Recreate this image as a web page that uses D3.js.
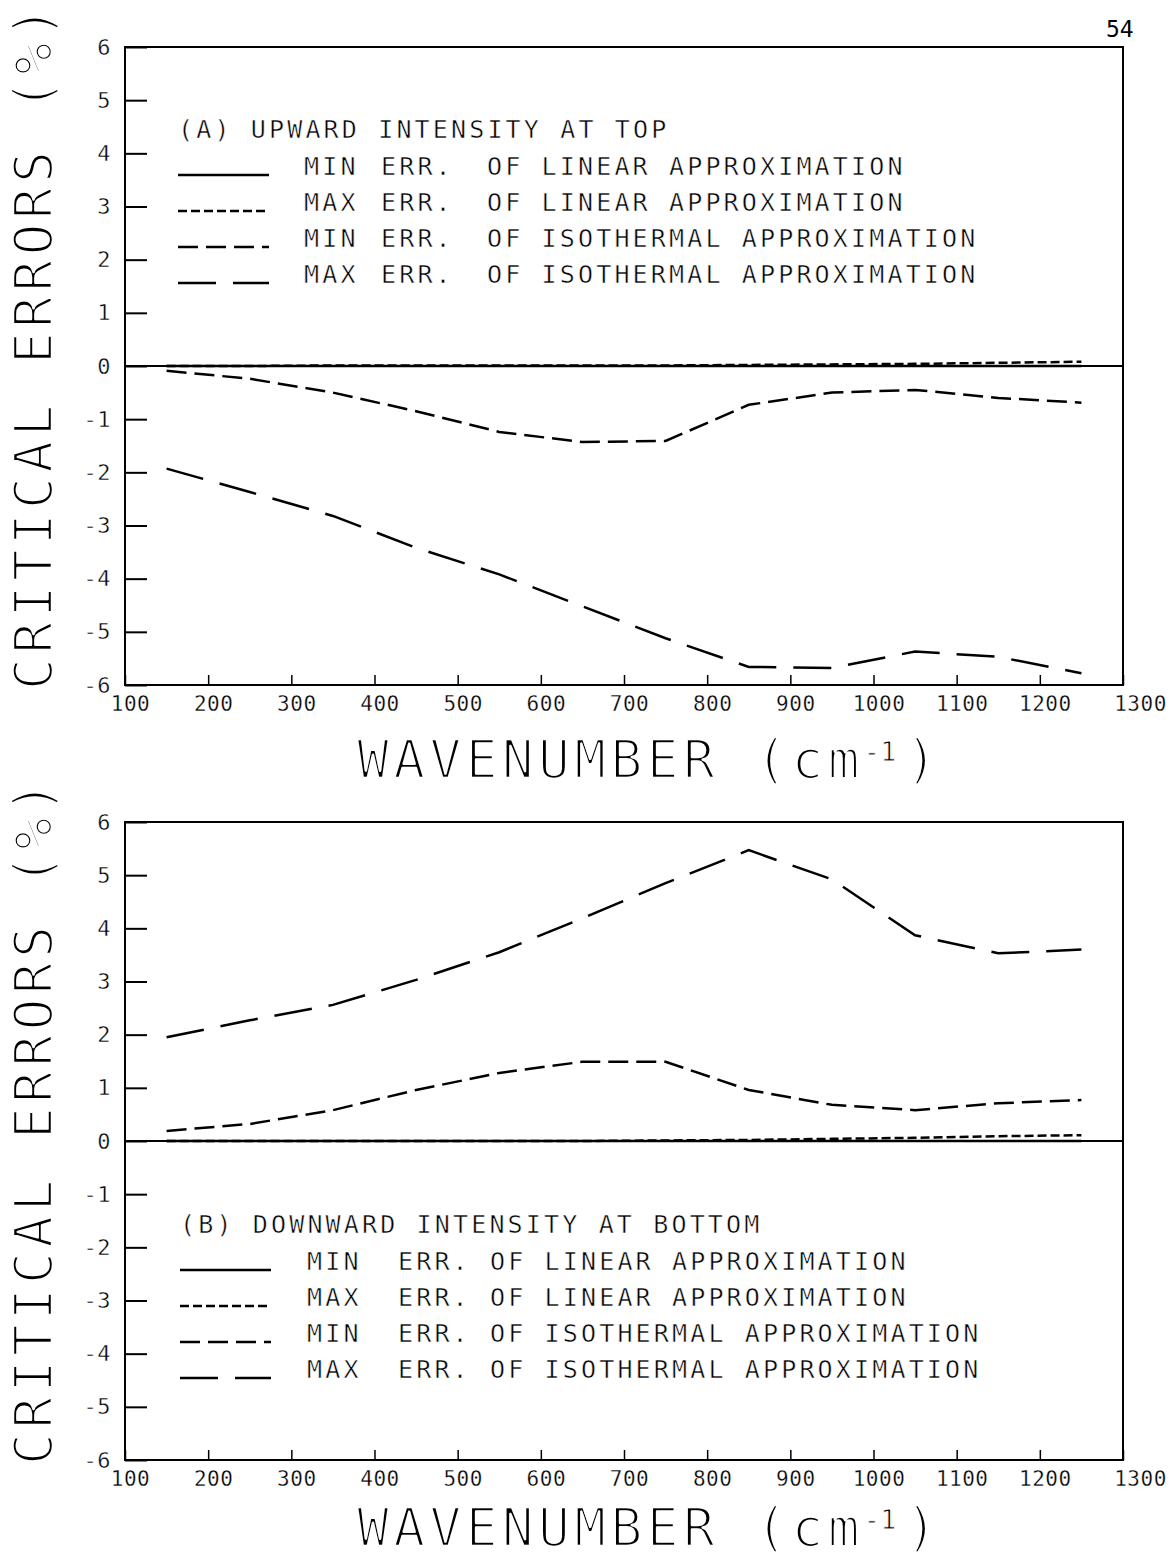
<!DOCTYPE html>
<html>
<head>
<meta charset="utf-8">
<script src="https://cdn.jsdelivr.net/npm/d3@7"></script>
<style>
  body { margin: 0; background: #fff; }
  text { font-family: "DejaVu Sans Mono", "Liberation Mono", monospace; fill: #000; }
</style>
</head>
<body>
<div id="chart"></div>
<script>
// DATA
const wavenumber = [150, 250, 350, 450, 550, 650, 750, 850, 950, 1050, 1150, 1250];

// (A) upward intensity at top
const upMinLinear = [0, 0, 0, 0, 0, 0, 0, 0, 0, 0, 0, 0];
const upMaxLinear = [0, 0, 0.01, 0.01, 0.01, 0.01, 0.01, 0.02, 0.03, 0.04, 0.06, 0.08];
const upMinIso = [-0.09, -0.24, -0.5, -0.85, -1.24, -1.43, -1.41, -0.73, -0.5, -0.45, -0.6, -0.69];
const upMaxIso = [-1.93, -2.37, -2.82, -3.42, -3.92, -4.52, -5.12, -5.66, -5.68, -5.37, -5.47, -5.78];

// (B) downward intensity at bottom
const downMinLinear = [0, 0, 0, 0, 0, 0, 0, 0, 0, 0, 0, 0];
const downMaxLinear = [0, 0, 0, 0, 0, 0, 0.01, 0.02, 0.04, 0.06, 0.09, 0.11];
const downMinIso = [0.19, 0.32, 0.58, 0.96, 1.28, 1.49, 1.49, 0.96, 0.68, 0.58, 0.71, 0.77];
const downMaxIso = [1.95, 2.27, 2.56, 3.03, 3.55, 4.19, 4.85, 5.47, 4.92, 3.87, 3.53, 3.6];

const xTickValues = [100, 200, 300, 400, 500, 600, 700, 800, 900, 1000, 1100, 1200, 1300];
const yTickValues = [-6, -5, -4, -3, -2, -1, 0, 1, 2, 3, 4, 5, 6];

const panelTitles = ["(A) UPWARD INTENSITY AT TOP", "(B) DOWNWARD INTENSITY AT BOTTOM"];
const seriesWords = [
    ["MIN", "ERR.", "OF LINEAR APPROXIMATION"],
    ["MAX", "ERR.", "OF LINEAR APPROXIMATION"],
    ["MIN", "ERR.", "OF ISOTHERMAL APPROXIMATION"],
    ["MAX", "ERR.", "OF ISOTHERMAL APPROXIMATION"]
];
const seriesDash = [null, "9,4", "20,8", "38,17"];

// SET GLOBAL VARIABLES
const W = 1175, H = 1560;
const xLeft = 125, xRight = 1123;

const svg = d3.select("#chart")
    .append("svg")
    .attr("width", W)
    .attr("height", H);

svg.append("rect").attr("width", W).attr("height", H).attr("fill", "#fff");

const x = d3.scaleLinear().domain([100, 1300]).range([xLeft, xRight]);

// thin the glyphs a little so they look like plotter lettering
function thin(sel, w) {
    sel.attr("stroke", "#fff").attr("stroke-width", w).attr("stroke-linejoin", "round");
}

function drawPanel(p) {
    const y = d3.scaleLinear().domain([-6, 6]).range([p.bottom, p.top]);

    // frame
    svg.append("rect")
        .attr("x", xLeft).attr("y", p.top)
        .attr("width", xRight - xLeft).attr("height", p.bottom - p.top)
        .attr("fill", "none").attr("stroke", "#000").attr("stroke-width", 2);

    // left axis, ticks pointing inward
    const gy = svg.append("g")
        .attr("transform", `translate(${xLeft},0)`)
        .call(d3.axisLeft(y).tickValues(yTickValues).tickSize(-22).tickPadding(14)
            .tickFormat(d => String(d)));
    gy.select(".domain").remove();
    gy.selectAll("line").attr("stroke-width", 2);
    gy.selectAll("text").attr("font-size", 22).attr("letter-spacing", 0.5)
        .call(thin, 0.4);

    // bottom axis
    const gx = svg.append("g")
        .attr("transform", `translate(0,${p.bottom})`)
        .call(d3.axisBottom(x).tickValues(xTickValues).tickSize(-10).tickPadding(11)
            .tickFormat(d => String(d)));
    gx.select(".domain").remove();
    gx.selectAll("line").attr("stroke-width", 1.5);
    gx.selectAll("text").attr("font-size", 21).attr("letter-spacing", 0.5)
        .attr("dx", d => d === 1300 ? 17 : 5)
        .call(thin, 0.3);

    // zero line
    svg.append("line")
        .attr("x1", x(100)).attr("x2", x(1300))
        .attr("y1", y(0)).attr("y2", y(0))
        .attr("stroke", "#000").attr("stroke-width", 2);

    // curves
    const line = d3.line()
        .x((d, i) => x(wavenumber[i]))
        .y(d => y(d));

    p.series.forEach((s, i) => {
        svg.append("path")
            .datum(s)
            .attr("fill", "none")
            .attr("stroke", "#000")
            .attr("stroke-width", 2.5)
            .attr("stroke-dasharray", seriesDash[i])
            .attr("d", line);
    });

    // legend
    const lg = svg.append("g").attr("font-size", 25).attr("letter-spacing", 3.15);
    lg.append("text")
        .attr("x", p.legendX[0]).attr("y", p.legendY)
        .call(thin, 0.5)
        .text(p.title);
    seriesWords.forEach((words, i) => {
        const yy = p.legendY + 37 + i * 36;
        lg.append("line")
            .attr("x1", p.legendX[0]).attr("x2", p.legendX[0] + 91)
            .attr("y1", yy).attr("y2", yy)
            .attr("stroke", "#000").attr("stroke-width", 2.5)
            .attr("stroke-dasharray", seriesDash[i]);
        words.forEach((w, j) => {
            lg.append("text")
                .attr("x", p.legendX[j + 1]).attr("y", yy)
                .call(thin, 0.5)
                .text(w);
        });
    });

    // axis titles
    const xt = svg.append("text")
        .attr("x", 357).attr("y", p.titleY)
        .attr("font-size", 53).attr("letter-spacing", 4.3)
        .call(thin, 2.4)
        .text("WAVENUMBER (cm");
    xt.append("tspan").attr("font-size", 26).attr("dy", -17).attr("letter-spacing", 1)
        .attr("stroke-width", 0.8).text("-1");
    xt.append("tspan").attr("dy", 17).attr("dx", 8).text(")");

    svg.append("text")
        .attr("transform", `translate(52,${p.bottom + 5}) rotate(-90)`)
        .attr("font-size", 53).attr("letter-spacing", 4.3)
        .call(thin, 2.4)
        .text("CRITICAL ERRORS (%)");
}

drawPanel({
    top: 47, bottom: 685,
    title: panelTitles[0],
    series: [upMinLinear, upMaxLinear, upMinIso, upMaxIso],
    legendY: 138,
    legendX: [178, 304, 381, 487],
    titleY: 778
});

drawPanel({
    top: 822, bottom: 1460,
    title: panelTitles[1],
    series: [downMinLinear, downMaxLinear, downMinIso, downMaxIso],
    legendY: 1233,
    legendX: [180, 307, 398, 490],
    titleY: 1546
});

// page number
svg.append("text")
    .attr("x", 1106).attr("y", 37)
    .attr("font-size", 23)
    .text("54");
</script>
</body>
</html>
